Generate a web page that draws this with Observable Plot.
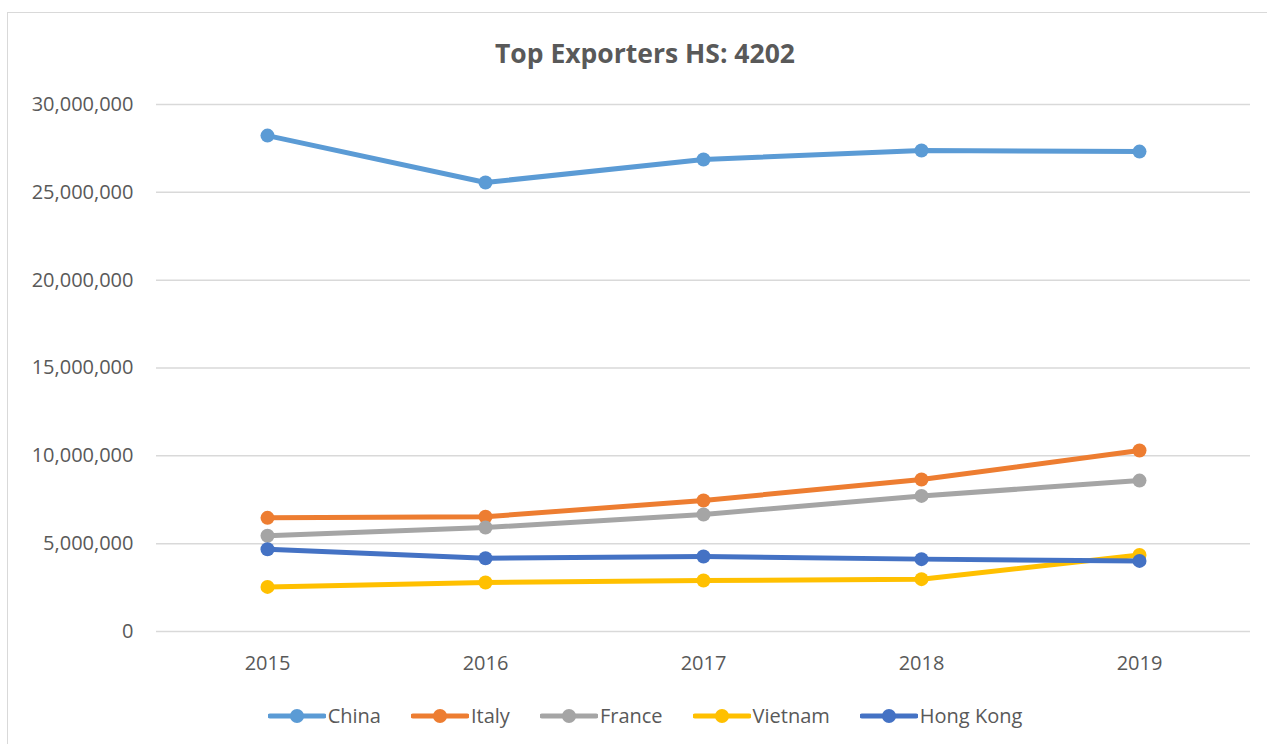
<!DOCTYPE html>
<html>
<head>
<meta charset="utf-8">
<script src="https://cdn.jsdelivr.net/npm/d3@7"></script>
<script src="https://cdn.jsdelivr.net/npm/@observablehq/plot@0.6"></script>
<style>
  html, body { margin: 0; padding: 0; background: #fff; width: 1267px; height: 744px; overflow: hidden; }
  body { position: relative; font-family: "Open Sans", sans-serif; color: #595959; }
  #frame { position: absolute; left: 7px; top: 12px; width: 1300px; height: 800px; border: 1px solid #d9d9d9; box-sizing: border-box; }
  #title { position: absolute; left: 0; width: 1290px; top: 35px; text-align: center; font-size: 26.5px; font-weight: 700; color: #595959; line-height: 36px; }
  #chart { position: absolute; left: 0; top: 0; }
  #legend { position: absolute; left: 0; width: 1290px; top: 702px; display: flex; justify-content: center; align-items: center; font-size: 20px; color: #595959; }
  .item { display: flex; align-items: center; margin: 0 15px; }
  .item svg { margin-right: 2px; }
</style>
</head>
<body>
<div id="frame"></div>
<div id="title">Top Exporters HS: 4202</div>
<div id="chart"></div>
<div id="legend"></div>
<script>
const years = ["2015", "2016", "2017", "2018", "2019"];
const seriesNames = ["China", "Italy", "France", "Vietnam", "Hong Kong"];
const seriesColors = ["#5B9BD5", "#ED7D31", "#A5A5A5", "#FFC000", "#4472C4"];
const china    = [28230000, 25560000, 26870000, 27380000, 27320000];
const italy    = [6470000, 6530000, 7460000, 8650000, 10300000];
const france   = [5450000, 5920000, 6660000, 7720000, 8590000];
const vietnam  = [2540000, 2790000, 2900000, 2980000, 4360000];
const hongKong = [4680000, 4170000, 4270000, 4120000, 4020000];
const yTicks = [0, 5000000, 10000000, 15000000, 20000000, 25000000, 30000000];

const allValues = [china, italy, france, vietnam, hongKong];
const data = [];
seriesNames.forEach((name, i) => {
  years.forEach((yr, j) => data.push({series: name, year: yr, value: allValues[i][j]}));
});

const color = {domain: seriesNames, range: seriesColors};

const chart = Plot.plot({
  width: 1267,
  height: 690,
  marginTop: 104,
  marginBottom: 59,
  marginLeft: 156,
  marginRight: 17,
  style: {fontFamily: "Open Sans, sans-serif", fontSize: "20px", color: "#595959", background: "transparent"},
  x: {type: "point", domain: years, padding: 0.5, label: null, tickSize: 0, tickPadding: 24},
  y: {domain: [0, 30000000], ticks: yTicks, tickFormat: d3.format(","), label: null, tickSize: 0, tickPadding: 23},
  color: color,
  marks: [
    Plot.ruleY(yTicks, {stroke: "#d9d9d9", strokeWidth: 1.5}),
    Plot.axisY({ticks: yTicks, tickFormat: d3.format(","), tickSize: 0, tickPadding: 23, label: null, fill: "#595959"}),
    Plot.axisX({tickSize: 0, tickPadding: 24, label: null, fill: "#595959"}),
    Plot.line(data, {x: "year", y: "value", z: "series", stroke: "series", strokeWidth: 5, strokeLinejoin: "round", strokeLinecap: "round"}),
    Plot.dot(data, {x: "year", y: "value", fill: "series", r: 7, stroke: "none"})
  ]
});
document.getElementById("chart").appendChild(chart);

const legend = document.getElementById("legend");
seriesNames.forEach((name, i) => {
  const item = document.createElement("div");
  item.className = "item";
  item.innerHTML = `<svg width="58" height="16"><line x1="2" y1="8" x2="56" y2="8" stroke="${seriesColors[i]}" stroke-width="5" stroke-linecap="round"/><circle cx="29" cy="8" r="7" fill="${seriesColors[i]}"/></svg><span>${name}</span>`;
  legend.appendChild(item);
});
</script>
</body>
</html>
